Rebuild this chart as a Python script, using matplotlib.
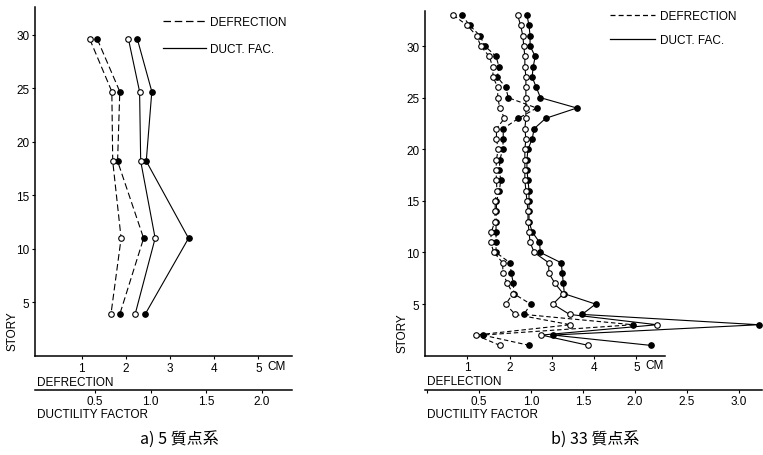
import matplotlib
matplotlib.use('Agg')
import matplotlib.pyplot as plt
from matplotlib.lines import Line2D

plt.rcParams['font.family'] = ['Liberation Sans', 'DejaVu Sans']

# a) 5 mass system
story5 = [29.6, 24.7, 18.2, 11.0, 3.9]
defl5_open = [1.18, 1.68, 1.70, 1.89, 1.66]
defl5_fill = [1.35, 1.86, 1.81, 2.40, 1.86]
duct5_open = [0.80, 0.90, 0.91, 1.04, 0.86]
duct5_fill = [0.88, 1.01, 0.96, 1.34, 0.95]

# b) 33 mass system, story 1 .. 33
story33 = list(range(1, 34))
defl33_open = [1.77, 1.20, 3.44, 2.13, 1.91, 2.08, 1.95, 1.84, 1.84, 1.63,
               1.55, 1.57, 1.65, 1.66, 1.66, 1.70, 1.69, 1.68, 1.69, 1.73,
               1.69, 1.69, 1.88, 1.77, 1.72, 1.72, 1.61, 1.60, 1.52, 1.32,
               1.22, 1.00, 0.67]
defl33_fill = [2.47, 1.36, 4.92, 2.34, 2.50, 2.10, 2.09, 2.04, 2.01, 1.68,
               1.68, 1.68, 1.68, 1.69, 1.69, 1.76, 1.79, 1.76, 1.77, 1.84,
               1.85, 1.85, 2.21, 2.64, 1.97, 1.91, 1.71, 1.75, 1.68, 1.42,
               1.30, 1.06, 0.87]
duct33_open = [1.55, 1.10, 2.21, 1.37, 1.21, 1.31, 1.23, 1.17, 1.17, 1.03,
               0.99, 0.98, 0.97, 0.97, 0.96, 0.95, 0.94, 0.94, 0.94, 0.94,
               0.95, 0.94, 0.95, 0.95, 0.95, 0.95, 0.95, 0.94, 0.94, 0.93,
               0.92, 0.90, 0.87]
duct33_fill = [2.15, 1.21, 3.19, 1.49, 1.62, 1.32, 1.31, 1.30, 1.29, 1.09,
               1.08, 1.01, 0.98, 0.98, 0.98, 0.98, 0.97, 0.96, 0.96, 0.97,
               1.01, 1.03, 1.14, 1.44, 1.09, 1.05, 1.01, 1.02, 1.04, 0.99,
               0.99, 0.98, 0.96]

story_ticks = [5, 10, 15, 20, 25, 30]
defl_ticks = [1, 2, 3, 4, 5]
duct_ticks5 = [0.5, 1.0, 1.5, 2.0]
duct_ticks33 = [0.5, 1.0, 1.5, 2.0, 2.5, 3.0]

W, H = 763, 456
fig = plt.figure(figsize=(W / 100, H / 100), dpi=100)


def px(x, y):
    return x / W, 1 - y / H


def panel(rect, ylim, xlim, xbound, dlim, dticks, dash, series, ductpad):
    ax = fig.add_axes(rect)
    ax.set_ylim(*ylim)
    ax.set_xlim(*xlim)
    for s in ['top', 'right']:
        ax.spines[s].set_visible(False)
    ax.spines['bottom'].set_bounds(0 if xlim[0] >= 0 else xlim[0], xbound)
    for s in ['left', 'bottom']:
        ax.spines[s].set_linewidth(1.1)
    ax.set_yticks(story_ticks)
    ax.set_xticks(defl_ticks)
    ax.tick_params(labelsize=8.5, length=2.5, width=0.8, pad=1.5)

    ax2 = ax.twiny()
    ax2.set_xlim(*dlim)
    ax2.xaxis.set_ticks_position('bottom')
    for s in ['top', 'left', 'right']:
        ax2.spines[s].set_visible(False)
    ax2.spines['bottom'].set_visible(True)
    ax2.spines['bottom'].set_position(('outward', ductpad))
    ax2.spines['bottom'].set_linewidth(1.1)
    ax2.set_xticks(dticks)
    ax2.set_xticklabels([f'{t:.1f}' for t in dticks])
    ax2.tick_params(labelsize=8.5, length=2.5, width=0.8, pad=0.8)

    story, d_o, d_f, m_o, m_f = series
    kw = dict(color='black', lw=0.8, markersize=4, markeredgewidth=0.8)
    ax.plot(d_f, story, ls=(0, dash), marker='o', mfc='black', **kw)
    ax.plot(d_o, story, ls=(0, dash), marker='o', mfc='white', **kw)
    ax2.plot(m_f, story, ls='-', marker='o', mfc='black', **kw)
    ax2.plot(m_o, story, ls='-', marker='o', mfc='white', **kw)
    return ax, ax2


# left panel
axL, axL2 = panel([35 / W, 1 - 357 / H, 257 / W, 349 / H], (0, 32.6),
                  (-0.06, 5.76), 5.76, (-0.04, 2.27), duct_ticks5, (6, 3),
                  (story5, defl5_open, defl5_fill, duct5_open, duct5_fill), 24.5)
# right panel
axR, axR2 = panel([425 / W, 1 - 356.7 / H, 337 / W, 344.7 / H], (0, 33.4),
                  (0, 7.97), 5.67, (-0.02, 3.22), [0] + duct_ticks33, (4, 2.5),
                  (story33, defl33_open, defl33_fill, duct33_open, duct33_fill), 25)
axR2.set_xticklabels([''] + [f'{t:.1f}' for t in duct_ticks33])

# legends
h_dash5 = Line2D([], [], color='black', lw=0.9, ls=(0, (6, 3)))
h_dash33 = Line2D([], [], color='black', lw=0.9, ls=(0, (4, 2.5)))
h_solid = Line2D([], [], color='black', lw=0.9)
fig.legend([h_dash5, h_solid], ['DEFRECTION', 'DUCT. FAC.'], loc='upper left',
           bbox_to_anchor=px(163, 17), frameon=False, fontsize=8.5,
           handlelength=3.6, handletextpad=0.4, labelspacing=1.25,
           borderpad=0, borderaxespad=0)
fig.legend([h_dash33, h_solid], ['DEFRECTION', 'DUCT. FAC.'], loc='upper left',
           bbox_to_anchor=px(610, 11), frameon=False, fontsize=8.5,
           handlelength=3.8, handletextpad=0.4, labelspacing=1.05,
           borderpad=0, borderaxespad=0)

# axis labels
fs = 8.5
fig.text(*px(267, 367), 'CM', fontsize=fs, va='center', ha='left')
fig.text(*px(645, 366), 'CM', fontsize=fs, va='center', ha='left')
fig.text(*px(37, 383), 'DEFRECTION', fontsize=fs, va='center', ha='left')
fig.text(*px(37, 415), 'DUCTILITY FACTOR', fontsize=fs, va='center', ha='left')
fig.text(*px(427, 382), 'DEFLECTION', fontsize=fs, va='center', ha='left')
fig.text(*px(427, 415), 'DUCTILITY FACTOR', fontsize=fs, va='center', ha='left')
fig.text(*px(13, 331), 'STORY', fontsize=fs, rotation=90, va='center', ha='center')
fig.text(*px(403, 333), 'STORY', fontsize=fs, rotation=90, va='center', ha='center')

cap = ['Noto Sans CJK JP', 'DejaVu Sans']
fig.text(*px(179, 439), 'a) 5 質点系', fontsize=11.5, family=cap,
         va='center', ha='center')
fig.text(*px(595, 439), 'b) 33 質点系', fontsize=11.5, family=cap,
         va='center', ha='center')

fig.savefig('out.png', dpi=100)
